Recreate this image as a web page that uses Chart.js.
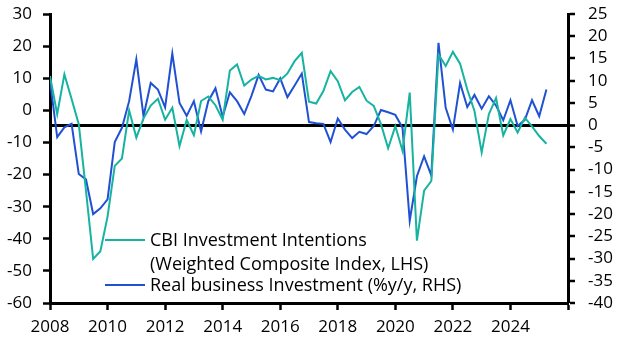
<!DOCTYPE html>
<html><head><meta charset="utf-8">
<script src="https://cdn.jsdelivr.net/npm/chart.js@4"></script>
<style>html,body{margin:0;padding:0;background:#fff;}#wrap{width:629px;height:355px;position:relative;}</style>
</head><body><div id="wrap"><canvas id="c" width="629" height="355"></canvas></div>
<script>
// Quarterly data, first observation 2007 Q4 (plotted at quarter end)
const startYear = 2007, startQuarter = 4;
const cbiIntentions = [10.7,-1.2,11.2,3.5,-4.3,-25,-46.3,-43.9,-33.1,-17.3,-15.0,0,-8.5,-2.5,1.5,3.6,-2.9,0.8,-11.1,-3.0,-7.7,2.9,4.3,1.6,-2.9,12.4,14.3,7.7,9.6,10.7,9.6,10.1,9.4,11.5,15.3,17.9,2.7,2.1,6.0,12.2,9.1,3.1,5.7,7.3,3.0,1.4,-4.3,-11.8,-4.9,-12.6,5.5,-40.6,-25.0,-22.0,17.4,13.8,18.2,14.5,6.5,-0.2,-13.1,-1.2,3.8,-7.8,-2.7,-6.9,-2.3,-5.0,-8.0,-10.4];
const businessInvestment = [10,-2.7,-0.5,0.3,-11.0,-12.2,-20.0,-18.7,-16.7,-3.8,-0.6,5.4,14.8,2.0,9.5,8.0,4.0,16.1,5.0,2.1,5.4,-1.4,5.4,8.3,1.9,7.4,5.4,2.5,6.6,11.3,8.0,7.6,10.5,6.3,8.9,11.6,0.7,0.45,0.3,-3.8,1.5,-1.0,-2.9,-1.5,-2.0,-0.2,3.4,2.9,2.3,-0.6,-21.5,-11.5,-7.0,-11.3,18.5,3.9,-1.0,9.5,4.1,6.8,3.7,6.5,4.4,1.1,5.6,-0.2,1.2,5.6,2.0,8.0];
const cbiLabel = ['CBI Investment Intentions','(Weighted Composite Index, LHS)'];
const investLabel = ['Real business Investment (%y/y, RHS)'];
const xTickLabels = ['2008','2010','2012','2014','2016','2018','2020','2022','2024'];
const leftTicks = [30,20,10,0,-10,-20,-30,-40,-50,-60];
const rightTicks = [25,20,15,10,5,0,-5,-10,-15,-20,-25,-30,-35,-40];

const TEAL = '#17B3A1', BLUE = '#2051D2';
const FONT = '"Open Sans", sans-serif';

function quarterX(i){
  const q0 = startQuarter - 1 + i;
  const y = startYear + Math.floor(q0/4), q = q0 % 4 + 1;
  return y + q/4;
}
const cbiPts = cbiIntentions.map((v,i)=>({x:quarterX(i), y:v}));
const invPts = businessInvestment.map((v,i)=>({x:quarterX(i), y:v}));

const legendPlugin = {
  id:'customLegend',
  afterDatasetsDraw(chart){
    const ctx = chart.ctx, a = chart.chartArea;
    const x0 = a.left + 55, x1 = a.left + 95, tx = a.left + 100;
    ctx.save();
    ctx.font = '18px ' + FONT;
    ctx.fillStyle = '#000';
    ctx.textBaseline = 'alphabetic';
    ctx.textAlign = 'left';
    const items = [
      {color: chart.data.datasets[0].borderColor, lines: chart.data.datasets[0].legendLines, y: 240, bases:[246,270]},
      {color: chart.data.datasets[1].borderColor, lines: chart.data.datasets[1].legendLines, y: 285, bases:[291]}
    ];
    items.forEach(it=>{
      ctx.strokeStyle = it.color; ctx.lineWidth = 2;
      ctx.beginPath(); ctx.moveTo(x0, it.y); ctx.lineTo(x1, it.y); ctx.stroke();
      it.lines.forEach((t,k)=>ctx.fillText(t, tx, it.bases[k]));
    });
    ctx.restore();
  }
};

function noVPad(s){ s.paddingTop = 0; s.paddingBottom = 0; }

new Chart(document.getElementById('c'), {
  type:'line',
  data:{datasets:[
    {label:cbiLabel.join(' '), legendLines:cbiLabel, data:cbiPts, borderColor:TEAL, borderWidth:2, pointRadius:0, tension:0, yAxisID:'y'},
    {label:investLabel.join(' '), legendLines:investLabel, data:invPts, borderColor:BLUE, borderWidth:2, pointRadius:0, tension:0, yAxisID:'y2'}
  ]},
  options:{
    responsive:false, animation:false, devicePixelRatio:1,
    layout:{padding:{top:14,left:0,right:0,bottom:0}},
    plugins:{legend:{display:false}, tooltip:{enabled:false}},
    scales:{
      x:{type:'linear', min:2008, max:2026,
        afterBuildTicks(s){ s.ticks = xTickLabels.map(Number).concat([2026]).map(v=>({value:v})); },
        afterFit(s){ s.height = 52; },
        ticks:{callback:v=> xTickLabels.includes(String(v)) ? String(v) : '', color:'#000', font:{family:FONT,size:17}, padding:7, maxRotation:0, autoSkip:false},
        grid:{drawOnChartArea:false, drawTicks:true, tickLength:7, tickColor:'#000', tickWidth:2.5},
        border:{display:true, color:'#000', width:3}
      },
      y:{position:'left', min:-60, max:30,
        afterBuildTicks(s){ s.ticks = leftTicks.map(v=>({value:v})); },
        afterFit(s){ s.width = 50; noVPad(s); },
        ticks:{color:'#000', font:{family:FONT,size:17}, padding:11, autoSkip:false, callback:v=>String(v)},
        grid:{drawOnChartArea:false, drawTicks:true, tickLength:7, tickColor:'#000', tickWidth:2.5},
        border:{display:true, color:'#000', width:3}
      },
      y2:{position:'right', min:-40, max:25, z:1,
        afterBuildTicks(s){ s.ticks = rightTicks.map(v=>({value:v})); },
        afterFit(s){ s.width = 61; noVPad(s); },
        ticks:{color:'#000', font:{family:FONT,size:17}, padding:13, autoSkip:false, callback:v=>String(v)},
        grid:{drawOnChartArea:true, color:c=> (c.tick && c.tick.value===0) ? '#000' : 'rgba(0,0,0,0)', lineWidth:c=>(c.tick && c.tick.value===0)?3:0, drawTicks:true, tickLength:7, tickColor:'#000', tickWidth:2.5},
        border:{display:true, color:'#000', width:3}
      }
    }
  },
  plugins:[legendPlugin]
});
</script></body></html>
